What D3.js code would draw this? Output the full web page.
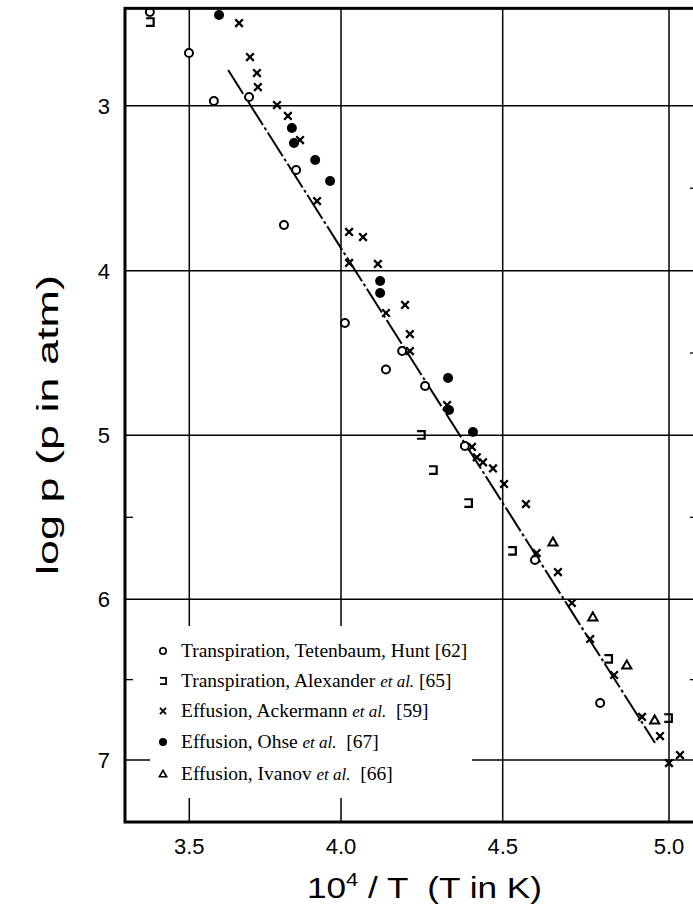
<!DOCTYPE html>
<html>
<head>
<meta charset="utf-8">
<script src="https://cdn.jsdelivr.net/npm/d3@7"></script>
<style>
  html, body { margin: 0; padding: 0; background: #fff; }
  svg { display: block; }
</style>
</head>
<body>
<svg id="chart" width="693" height="914"></svg>
<script>
// Vapour pressure: log p against 10^4/T, five data sets and a fitted line.

const xTicks = [3.5, 4.0, 4.5, 5.0];
const xTickLabels = ["3.5", "4.0", "4.5", "5.0"];
const yTicks = [3, 4, 5, 6, 7];
const yTickLabels = ["3", "4", "5", "6", "7"];
const yMinorTicks = [5.5, 6.5];
const yMinorTicksRight = [3.5, 4.5, 5.5, 6.5];

// Transpiration, Tetenbaum, Hunt [62]
const tetenbaumX = [3.370, 3.499, 3.581, 3.697, 3.852, 3.812, 4.012, 4.189, 4.139, 4.260, 4.383, 4.597, 4.793];
const tetenbaumY = [2.432, 2.681, 2.972, 2.947, 3.390, 3.723, 4.318, 4.488, 4.600, 4.700, 5.065, 5.760, 6.645];

// Transpiration, Alexander et al. [65]
const alexanderX = [3.370, 4.247, 4.284, 4.393, 4.528, 4.817, 4.997];
const alexanderY = [2.493, 4.998, 5.212, 5.413, 5.705, 6.371, 6.739];

// Effusion, Ackermann et al. [59]
const ackermannX = [3.664, 3.700, 3.723, 3.726, 3.789, 3.825, 3.865, 3.921, 4.025, 4.068, 4.025, 4.114,
                    4.198, 4.139, 4.213, 4.213, 4.328, 4.405, 4.420, 4.439, 4.470, 4.504, 4.570, 4.602,
                    4.666, 4.708, 4.763, 4.835, 4.919, 4.973, 5.000, 5.033];
const ackermannY = [2.499, 2.705, 2.802, 2.887, 2.996, 3.062, 3.208, 3.578, 3.765, 3.796, 3.953, 3.959,
                    4.208, 4.257, 4.385, 4.488, 4.816, 5.071, 5.134, 5.165, 5.202, 5.297, 5.419, 5.718,
                    5.834, 6.023, 6.247, 6.471, 6.732, 6.851, 7.019, 6.969];

// Effusion, Ohse et al. [67]
const ohseX = [3.598, 3.838, 3.845, 3.915, 3.964, 4.121, 4.121, 4.331, 4.334, 4.408];
const ohseY = [2.450, 3.135, 3.226, 3.329, 3.456, 4.063, 4.135, 4.652, 4.846, 4.980];

// Effusion, Ivanov et al. [66]
const ivanovX = [4.651, 4.771, 4.873, 4.957];
const ivanovY = [5.651, 6.110, 6.409, 6.751];

// Fitted line
const fitX = [3.628, 4.0, 4.5, 4.958];
const fitY = [2.784, 3.863, 5.412, 6.894];

// Legend entries
const legendKinds = ["circle", "square", "cross", "dot", "triangle"];
const legendMain = ["Transpiration, Tetenbaum, Hunt [62]", "Transpiration, Alexander ", "Effusion, Ackermann ", "Effusion, Ohse ", "Effusion, Ivanov "];
const legendItalic = ["", "et al.", "et al.", "et al.", "et al."];
const legendTail = ["", " [65]", "  [59]", "  [67]", "  [66]"];

const xLabel = "10";
const yLabel = "log p (p in atm)";

// ---- layout ----
const svg = d3.select("#chart");
const xDomainMin = 3.288, xDomainMax = 5.087;
const yDomainMin = 2.41, yDomainMax = 7.386;

const x = d3.scaleLinear().domain([3.5, 4.0, 4.5, 5.0]).range([189.3, 341, 502.7, 669]);
const y = d3.scaleLinear().domain([3, 4, 5, 6, 7]).range([105.7, 270.7, 435.3, 599.3, 760]);

const plotL = x(xDomainMin), plotR = x(xDomainMax);
const plotT = y(yDomainMin), plotB = y(yDomainMax);

const ink = "#000";

// grid
const grid = svg.append("g").attr("stroke", ink).attr("stroke-width", 1.5);
grid.selectAll("line.h").data(yTicks).join("line").attr("class", "h")
  .attr("x1", plotL).attr("x2", plotR)
  .attr("y1", d => y(d)).attr("y2", d => y(d));
grid.selectAll("line.v").data(xTicks).join("line").attr("class", "v")
  .attr("x1", d => x(d)).attr("x2", d => x(d))
  .attr("y1", plotT).attr("y2", plotB);

// minor ticks
svg.append("g").attr("stroke", ink).attr("stroke-width", 1.3)
  .selectAll("line").data(yMinorTicks).join("line")
  .attr("x1", plotL).attr("x2", plotL + 8)
  .attr("y1", d => y(d)).attr("y2", d => y(d));
svg.append("g").attr("stroke", ink).attr("stroke-width", 1.3)
  .selectAll("line").data(yMinorTicksRight).join("line")
  .attr("x1", plotR - 8).attr("x2", plotR)
  .attr("y1", d => y(d)).attr("y2", d => y(d));

// legend panel blanks the grid behind it
const legX = 150, legY = 626, legW = 322, legH = 172;
svg.append("rect").attr("x", legX).attr("y", legY).attr("width", legW).attr("height", legH).attr("fill", "#fff");

// fitted line
const fit = fitX.map((v, i) => [v, fitY[i]]);
svg.append("path")
  .attr("d", d3.line().x(d => x(d[0])).y(d => y(d[1]))(fit))
  .attr("fill", "none").attr("stroke", ink).attr("stroke-width", 2)
  .attr("stroke-dasharray", "28,3,3,3");

// symbol drawing
function drawSymbol(g, kind, cx, cy, scale) {
  const s = scale || 1;
  if (kind === "circle") {
    g.append("circle").attr("cx", cx).attr("cy", cy).attr("r", 4 * s)
      .attr("fill", "#fff").attr("stroke", ink).attr("stroke-width", 2 * s);
  } else if (kind === "square") {
    const h = 3.8 * s;
    g.append("path")
      .attr("d", `M${cx - h},${cy - h}L${cx + h},${cy - h}L${cx + h},${cy + h}L${cx - h},${cy + h}`)
      .attr("fill", "none").attr("stroke", ink).attr("stroke-width", 2.2 * s);
  } else if (kind === "cross") {
    const h = 3.8 * s;
    g.append("path")
      .attr("d", `M${cx - h},${cy - h}L${cx + h},${cy + h}M${cx - h},${cy + h}L${cx + h},${cy - h}`)
      .attr("stroke", ink).attr("stroke-width", 2.3 * s);
  } else if (kind === "dot") {
    g.append("circle").attr("cx", cx).attr("cy", cy).attr("r", 5 * s).attr("fill", ink);
  } else if (kind === "triangle") {
    const h = 4.6 * s;
    g.append("path")
      .attr("d", `M${cx},${cy - h}L${cx + h},${cy + h * 0.75}L${cx - h},${cy + h * 0.75}Z`)
      .attr("fill", "#fff").attr("stroke", ink).attr("stroke-width", 2 * s);
  }
}

const series = [
  ["circle", tetenbaumX, tetenbaumY],
  ["square", alexanderX, alexanderY],
  ["cross", ackermannX, ackermannY],
  ["dot", ohseX, ohseY],
  ["triangle", ivanovX, ivanovY]
];
const pts = svg.append("g");
series.forEach(([kind, xs, ys]) => {
  xs.forEach((v, i) => drawSymbol(pts, kind, x(v), y(ys[i]), 1));
});

// frame
svg.append("rect")
  .attr("x", plotL).attr("y", plotT).attr("width", plotR - plotL).attr("height", plotB - plotT)
  .attr("fill", "none").attr("stroke", ink).attr("stroke-width", 3);

// tick labels
const sans = "'Liberation Sans', Arial, sans-serif";
svg.append("g").selectAll("text").data(yTicks).join("text")
  .attr("x", 110).attr("y", d => y(d) + 8)
  .attr("text-anchor", "end")
  .attr("font-family", sans).attr("font-size", 22)
  .text((d, i) => yTickLabels[i]);

svg.append("g").selectAll("text").data(xTicks).join("text")
  .attr("x", d => x(d)).attr("y", 854)
  .attr("text-anchor", "middle")
  .attr("font-family", sans).attr("font-size", 22)
  .text((d, i) => xTickLabels[i]);

// axis titles
const xt = svg.append("text")
  .attr("x", 307).attr("y", 898)
  .attr("font-family", sans).attr("font-size", 29)
  .attr("textLength", 235).attr("lengthAdjust", "spacingAndGlyphs")
  .style("white-space", "pre");
xt.append("tspan").text(xLabel);
xt.append("tspan").attr("font-size", 18).attr("dy", -12).text("4");
xt.append("tspan").attr("dy", 12).text(" / T  (T in K)");

svg.append("text")
  .attr("transform", "translate(58,425) rotate(-90)")
  .attr("text-anchor", "middle")
  .attr("font-family", sans).attr("font-size", 30)
  .attr("textLength", 300).attr("lengthAdjust", "spacingAndGlyphs")
  .text(yLabel);

// legend
const serif = "'Liberation Serif', 'Times New Roman', serif";
const rowY = [651, 681, 711, 742, 774];
const leg = svg.append("g");
legendKinds.forEach((kind, i) => {
  drawSymbol(leg, kind, 163, rowY[i], 0.8);
  const t = leg.append("text")
    .attr("x", 181).attr("y", rowY[i] + 6)
    .attr("font-family", serif).attr("font-size", 19.5)
    .style("white-space", "pre");
  t.append("tspan").text(legendMain[i]);
  if (legendItalic[i]) t.append("tspan").attr("font-style", "italic").attr("font-size", 17).text(legendItalic[i]);
  if (legendTail[i]) t.append("tspan").text(legendTail[i]);
});
</script>
</body>
</html>
